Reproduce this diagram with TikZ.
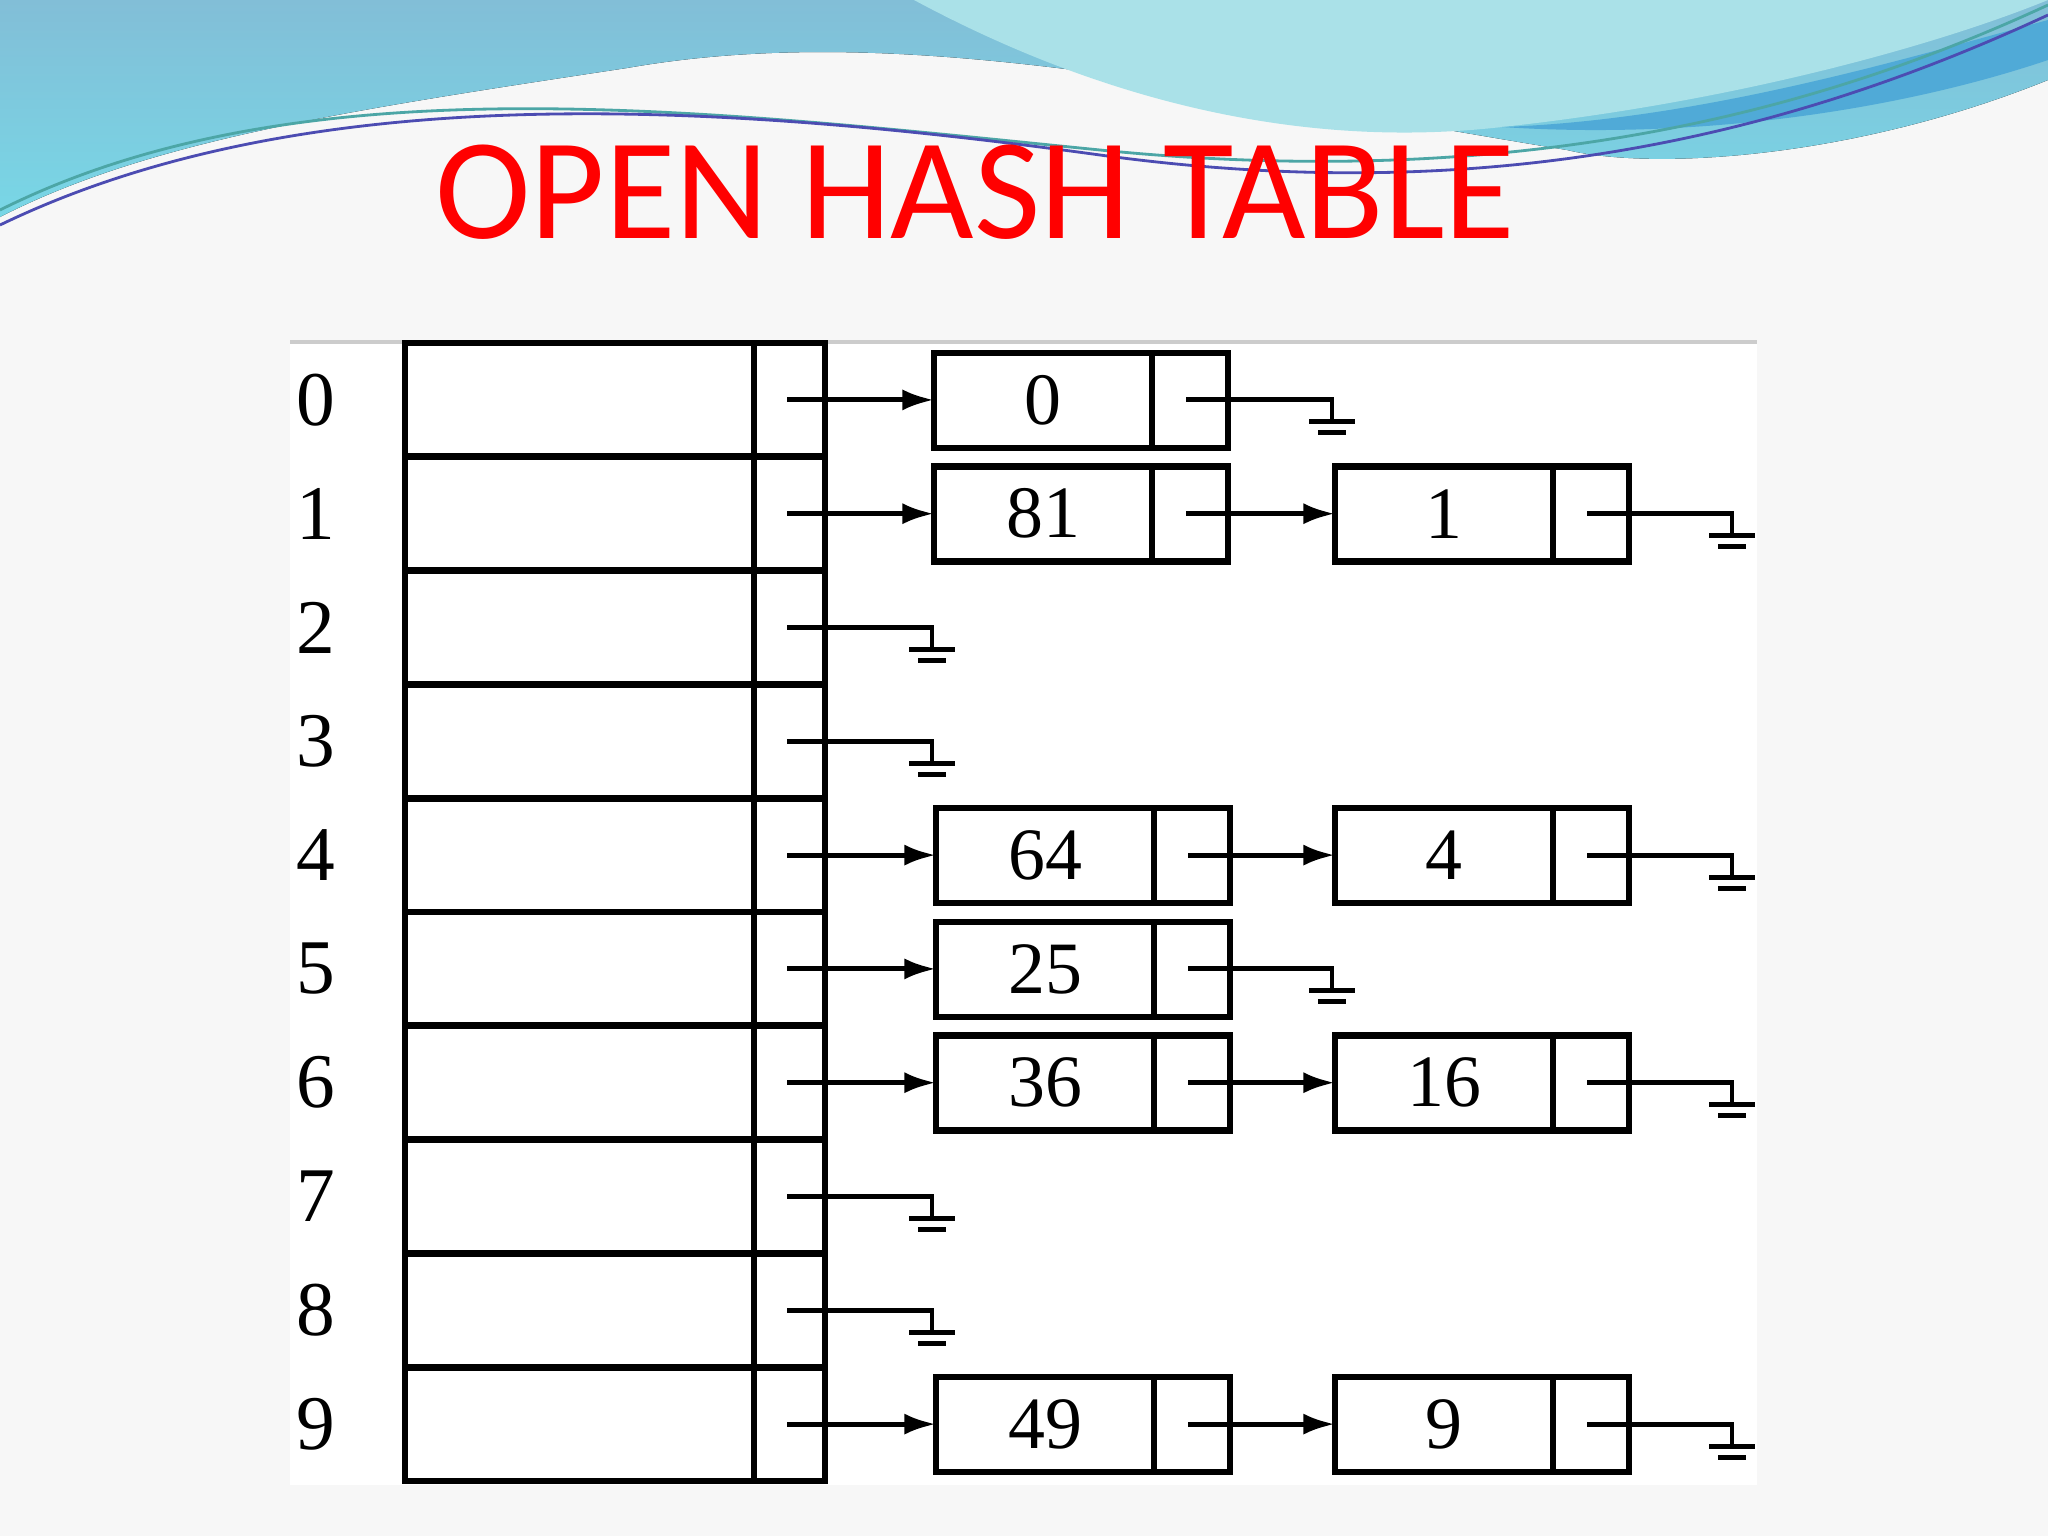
\documentclass[tikz,border=0pt]{standalone}
\usepackage{fontspec}
\setmainfont{Liberation Serif}
\newfontfamily\titlefont{Carlito}
\usetikzlibrary{arrows.meta,calc}
\definecolor{bannerA}{RGB}{130,190,215}
\definecolor{bannerB}{RGB}{120,215,230}
\definecolor{bannerC}{RGB}{170,225,232}
\definecolor{bannerD}{RGB}{80,170,215}
\begin{document}
\begin{tikzpicture}[x=0.01cm,y=-0.01cm,
  ln/.style={line width=1.9pt},
  cell/.style={draw,ln},
  ptr/.style={line width=1.4pt},
  arr/.style={ptr,-{Latex[length=9pt,width=6pt]}},
  num/.style={font=\fontsize{21}{21}\selectfont},
  idx/.style={font=\fontsize{22}{22}\selectfont}]
\useasboundingbox (0,0) rectangle (2048,1536);
\fill[black!3] (0,0) rectangle (2048,1536);
% banner
\fill[top color=bannerA, bottom color=bannerB] (0,0) -- (2048,0) -- (2048,80)
  .. controls (1850,160) and (1650,170) .. (1567,150)
  .. controls (1200,90) and (900,20) .. (627,68)
  .. controls (350,110) and (150,140) .. (0,217) -- cycle;
\fill[bannerC] (914,0) .. controls (1100,100) and (1300,150) .. (1502,127)
  .. controls (1750,100) and (1950,40) .. (2048,0) -- cycle;
\fill[bannerD] (1502,127) .. controls (1700,120) and (1900,60) .. (2048,20) -- (2048,60) .. controls (1900,110) and (1700,140) .. (1502,127);
\draw[teal!70,line width=0.8pt] (0,210) .. controls (300,60) and (700,110) .. (1100,150) .. controls (1500,190) and (1800,120) .. (2048,5);
\draw[blue!40!gray,line width=0.8pt] (0,225) .. controls (300,80) and (700,100) .. (1100,155) .. controls (1500,210) and (1800,130) .. (2048,15);
% title
\node[text=red,font=\titlefont\fontsize{41}{41}\selectfont] (title) at (975,192) {OPEN HASH TABLE};
% panel
\fill[white] (290,342) rectangle (1757,1485);
\draw[black!20,line width=1pt] (290,342) -- (1757,342);
% table
\foreach \i in {0,...,9}{
  \pgfmathsetmacro{\ya}{343+113.8*\i}
  \pgfmathsetmacro{\yb}{343+113.8*(\i+1)}
  \pgfmathsetmacro{\yc}{343+113.8*(\i+0.5)}
  \draw[cell] (405,\ya) rectangle (754,\yb);
  \draw[cell] (754,\ya) rectangle (825,\yb);
  \node[idx] (i\i) at (316,\yc) {\i};
  \coordinate (p\i) at (787,\yc);
}
\newcommand\lnode[4]{% name, x, row, text
  \pgfmathsetmacro{\yc}{343+113.8*(#3+0.5)}
  \draw[cell] (#2,\yc-47) rectangle (#2+294,\yc+48);
  \draw[ln] (#2+218,\yc-47) -- (#2+218,\yc+48);
  \node[num] (#1) at (#2+109,\yc) {#4};
  \coordinate (#1w) at (#2,\yc);
  \coordinate (#1p) at (#2+252,\yc);
}
\newcommand\gnd[2]{% from, x
  \draw[ptr] (#1) -- (#2,0|-#1) coordinate (gg) -- ++(0,22);
  \draw[ptr] ($(gg)+(-23,22)$) -- ++(46,0);
  \draw[ptr] ($(gg)+(-14,33)$) -- ++(28,0);
}
\lnode{a0}{934}{0}{0}
\lnode{a1}{934}{1}{81}
\lnode{b1}{1335}{1}{1}
\lnode{a4}{936}{4}{64}
\lnode{b4}{1335}{4}{4}
\lnode{a5}{936}{5}{25}
\lnode{a6}{936}{6}{36}
\lnode{b6}{1335}{6}{16}
\lnode{a9}{936}{9}{49}
\lnode{b9}{1335}{9}{9}
\foreach \r in {0,1,4,5,6,9}{\draw[arr] (p\r) -- (a\r w);}
\foreach \r in {1,4,6,9}{\draw[arr] (a\r p) -- (b\r w);}
\foreach \r in {2,3,7,8}{\gnd{p\r}{932}}
\foreach \r in {0,5}{\gnd{a\r p}{1332}}
\foreach \r in {1,4,6,9}{\gnd{b\r p}{1732}}
\end{tikzpicture}
\end{document}
